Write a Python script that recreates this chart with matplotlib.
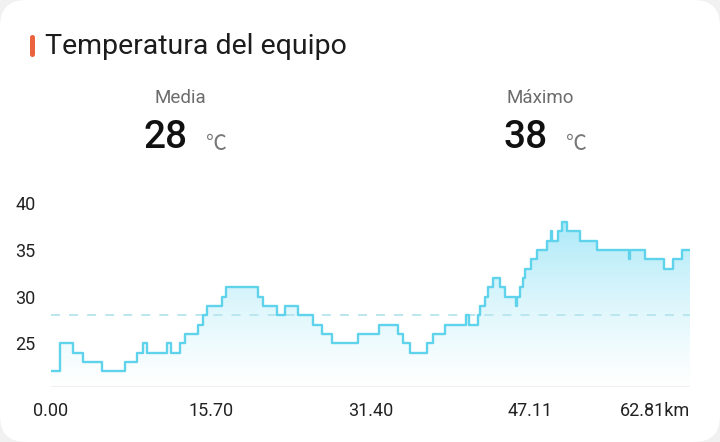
import numpy as np
import matplotlib
matplotlib.use("Agg")
import matplotlib.pyplot as plt
from matplotlib.patches import FancyBboxPatch, PathPatch
from matplotlib.colors import LinearSegmentedColormap

# ---------- DATA ----------
# step breakpoints: distance (km) -> temperature (°C) held until next point
dist_km = [0.00, 0.88, 2.13, 3.12, 4.98, 7.27, 8.42, 9.01, 9.41, 11.37,
           11.80, 12.68, 13.17, 14.48, 14.91, 15.36, 16.78, 17.17, 20.32, 20.87,
           22.18, 23.00, 24.31, 25.72, 26.61, 27.65, 30.21, 32.24, 34.14, 34.63,
           35.29, 36.99, 37.52, 38.73, 40.76, 41.09, 42.00, 42.17, 42.66, 42.99,
           43.42, 44.13, 44.63, 45.71, 45.85, 46.10, 46.37, 46.59, 47.18, 47.74,
           48.72, 49.16, 49.29, 49.86, 50.26, 50.75, 52.00, 53.64, 56.82, 56.95,
           58.39, 60.25, 61.17, 62.00, 62.81]
temp_c = [22, 25, 24, 23, 22, 23, 24, 25, 24, 25,
          24, 25, 26, 27, 28, 29, 30, 31, 30, 29,
          28, 29, 28, 27, 26, 25, 26, 27, 26, 25,
          24, 25, 26, 27, 28, 27, 28, 29, 30, 31,
          32, 31, 30, 29, 30, 31, 32, 33, 34, 35,
          36, 37, 36, 37, 38, 37, 36, 35, 34, 35,
          34, 33, 34, 35, 35]

avg_temp = 28
max_temp = 38
x_ticks = [0.00, 15.70, 31.40, 47.11, 62.81]
x_labels = ["0.00", "15.70", "31.40", "47.11", "62.81km"]
y_ticks = [25, 30, 35, 40]

title = "Temperatura del equipo"
stat_labels = ["Media", "Máximo"]
stat_values = [avg_temp, max_temp]

FONT = ["Roboto", "DejaVu Sans"]
plt.rcParams["font.family"] = FONT

W, H = 720, 442
fig = plt.figure(figsize=(W / 100, H / 100), dpi=100, facecolor="#f1f1f1")

# white card with rounded corners
card = FancyBboxPatch((0, 0), W, H, boxstyle="round,pad=0,rounding_size=26",
                      transform=None, facecolor="white", edgecolor="none", zorder=0)
fig.add_artist(card)

# orange title marker
marker = FancyBboxPatch((30, H - 57), 5, 22, boxstyle="round,pad=0,rounding_size=2.5",
                        transform=None, facecolor="#ea623e", edgecolor="none")
fig.add_artist(marker)
fig.text(45 / W, 1 - 46 / H, title, fontsize=20.5, color="#1c1c1c", va="center", ha="left")

# stats
for cx, lab, val in zip([180, 540], stat_labels, stat_values):
    fig.text(cx / W, 1 - 98 / H, lab, fontsize=13.5, color="#6c6c6c",
             ha="center", va="center")
    fig.text((cx - 14) / W, 1 - 138 / H, str(val), fontsize=28, color="#111111",
             ha="center", va="center", fontweight="medium")
    fig.text((cx + 36) / W, 1 - 144 / H, "℃", fontsize=15, color="#777777",
             ha="center", va="center", family=["Noto Sans CJK SC", "DejaVu Sans"])

# ---------- CHART ----------
y_lo, y_hi = 20.35, 41.0
ax = fig.add_axes([51 / W, (H - 386.7) / H, 639 / W, (386.7 - 194) / H])
ax.set_facecolor("none")
ax.set_xlim(0, 62.81)
ax.set_ylim(y_lo, y_hi)

x = np.array(dist_km)
y = np.array(temp_c)

# gradient fill under the step line
fill = ax.fill_between(x, y, y_lo, step="post", facecolor="none", edgecolor="none")
clip = PathPatch(fill.get_paths()[0], transform=ax.transData, facecolor="none", edgecolor="none")
ax.add_patch(clip)
cmap = LinearSegmentedColormap.from_list(
    "fade", [(0.75, 0.94, 0.98, 0.0), (0.62, 0.90, 0.97, 0.85)])
grad = np.linspace(0, 1, 256).reshape(-1, 1)
im = ax.imshow(grad, cmap=cmap, origin="lower", aspect="auto",
               extent=[0, 62.81, y_lo, max(temp_c)], zorder=1)
im.set_clip_path(clip)

ax.plot(x, y, drawstyle="steps-post", color="#5fd3ec", lw=1.7, zorder=3)
ax.axhline(avg_temp, color="#b6e5ee", lw=1.3, dashes=(5, 5), zorder=2)
ax.axhline(y_lo, color="#eeeeee", lw=1.2, zorder=2)

for s in ax.spines.values():
    s.set_visible(False)
ax.set_yticks(y_ticks)
ax.set_yticklabels([str(t) for t in y_ticks])
ax.set_xticks(x_ticks)
ax.set_xticklabels(x_labels)
ax.tick_params(axis="both", length=0, labelsize=13, colors="#222222")
ax.tick_params(axis="y", pad=11)
ax.tick_params(axis="x", pad=11)
xl = ax.get_xticklabels()
xl[-1].set_horizontalalignment("right")

fig.savefig("out.png", dpi=100, facecolor=fig.get_facecolor())
